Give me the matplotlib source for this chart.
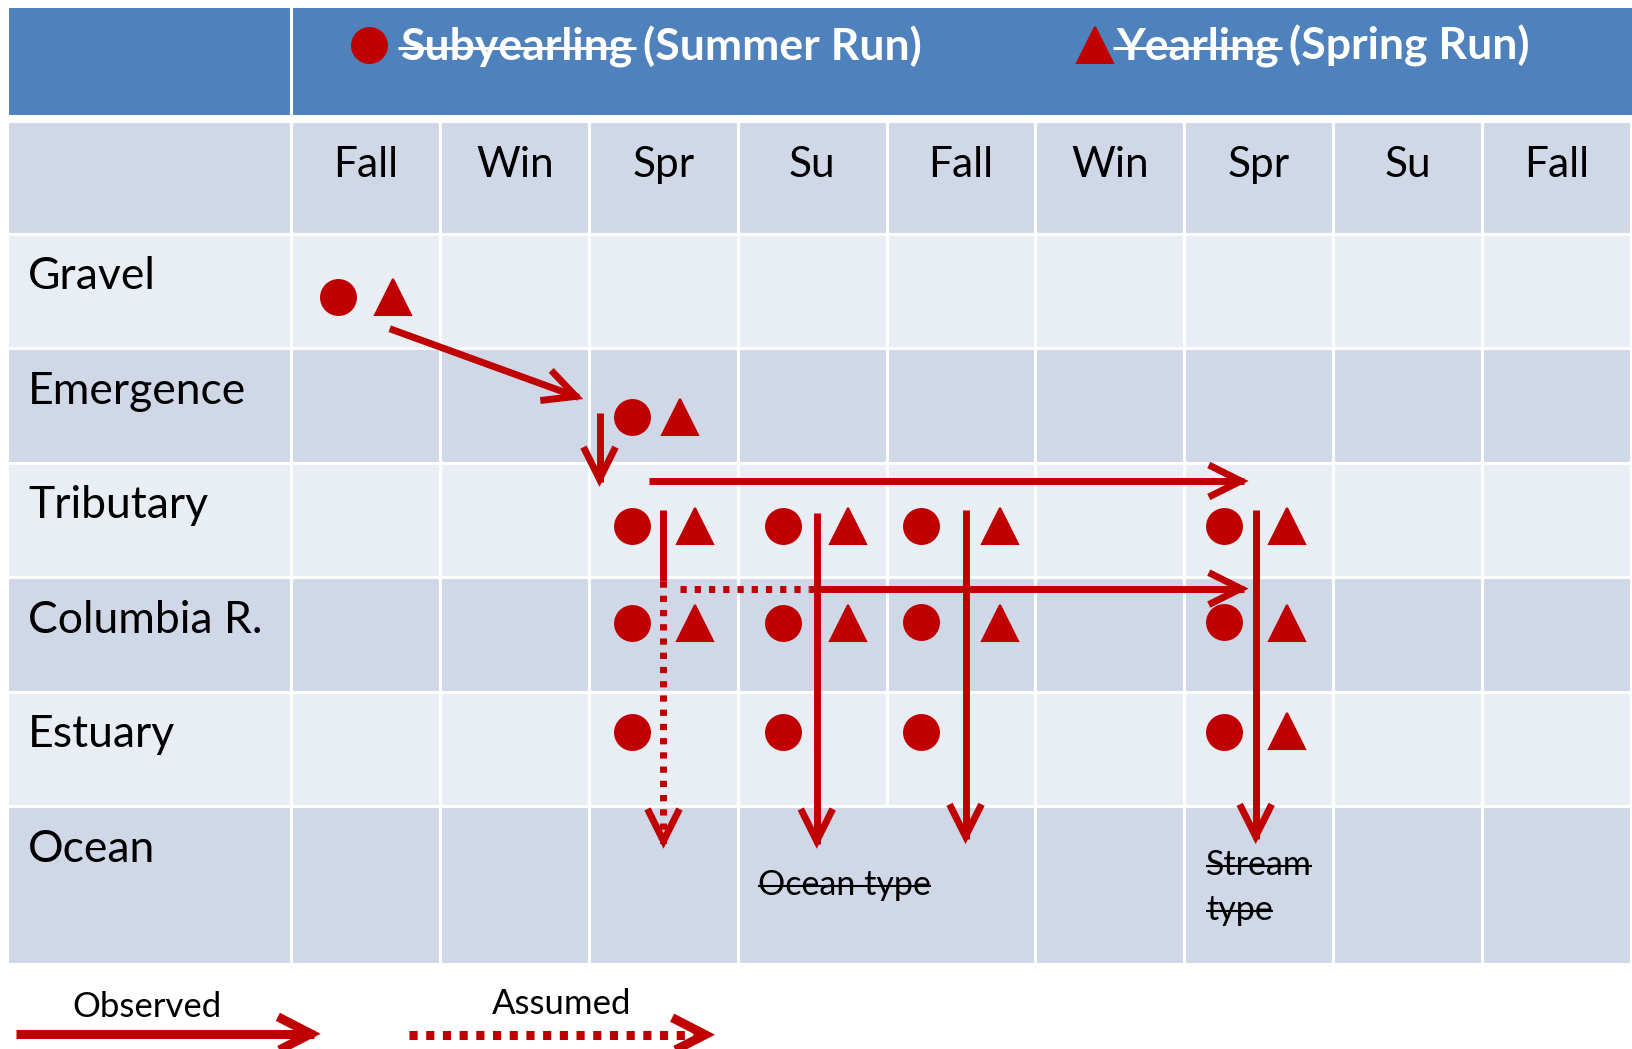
import numpy as np
import matplotlib
matplotlib.use('Agg')
import matplotlib.pyplot as plt
from matplotlib.patches import Rectangle

plt.rcParams['font.family'] = ['Lato', 'DejaVu Sans']

RED = '#C00000'
BLUE = '#4F81BD'
DARK = '#D0D8E8'
LIGHT = '#E9EDF4'

seasons = ['Fall', 'Win', 'Spr', 'Su', 'Fall', 'Win', 'Spr', 'Su', 'Fall']
stages = ['Gravel', 'Emergence', 'Tributary', 'Columbia R.', 'Estuary', 'Ocean']

# circles = subyearling, triangles = yearling (x in season columns, y in stage rows)
sub_x = [0.31, 2.29, 2.29, 3.30, 4.23, 6.27, 2.29, 3.30, 4.23, 6.27, 2.29, 3.30, 4.23, 6.27]
sub_y = [0.55, 1.60, 2.55, 2.55, 2.55, 2.55, 3.40, 3.40, 3.39, 3.39, 4.35, 4.35, 4.35, 4.35]
year_x = [0.68, 2.61, 2.71, 3.74, 4.76, 6.69, 2.71, 3.74, 4.76, 6.69, 6.69]
year_y = [0.55, 1.60, 2.55, 2.55, 2.55, 2.55, 3.40, 3.40, 3.40, 3.40, 4.34]

# movements: x0, y0, x1, y1, arrow head?
observed = [
    (0.66, 0.83, 1.93, 1.43, True),
    (2.07, 1.57, 2.07, 2.17, True),
    (2.40, 2.16, 6.40, 2.16, True),
    (2.50, 2.41, 2.50, 3.03, False),
    (3.48, 3.10, 6.40, 3.10, True),
    (3.53, 2.44, 3.53, 5.33, True),
    (4.53, 2.41, 4.53, 5.29, True),
    (6.48, 2.41, 6.48, 5.29, True),
]
assumed = [
    (2.50, 3.03, 2.50, 5.33, True),
    (2.61, 3.10, 3.48, 3.10, False),
]

fig = plt.figure(figsize=(16.32, 10.49), dpi=100)
ax = fig.add_axes([0, 0, 1, 1])
ax.set_xlim(-1.959, 9.009)
ax.set_ylim(7.121, -2.041)
ax.axis('off')
PX = 100 / 72


def cell(x0, x1, y0, y1, color):
    ax.add_patch(Rectangle((x0, y0), x1 - x0, y1 - y0, facecolor=color,
                           edgecolor='white', lw=2.2, zorder=1))


# table cells
LEFT = -1.913
cell(LEFT, 0, -1.99, -1.028, BLUE)
cell(0, 9.2, -1.99, -1.028, BLUE)
cell(LEFT, 0, -0.982, 0, DARK)
for i in range(len(seasons)):
    cell(i, i + 1, -0.982, 0, DARK)
for r, name in enumerate(stages):
    col = LIGHT if r % 2 == 0 else DARK
    y1 = r + 1 if name != 'Ocean' else 6.38
    cell(LEFT, 0, r, y1, col)
    i = 0
    while i < len(seasons):
        if name == 'Ocean' and i == 3:
            cell(i, i + 2, r, y1, col)
            i += 2
        else:
            cell(i, i + 1, r, y1, col)
            i += 1

for i, s in enumerate(seasons):
    ax.text(i + 0.5, -0.496, s, ha='center', va='baseline', fontsize=30.5, zorder=3)
for r, name in enumerate(stages):
    ax.text(-1.77, r + 0.486, name, ha='left', va='baseline', fontsize=32, zorder=3)

# markers
ax.plot(sub_x, sub_y, 'o', ms=26.6, color=RED, mec='none', zorder=4)
ax.plot(year_x, year_y, '^', ms=25.5, color=RED, mec=RED, mew=1.5, zorder=4)


def chevron(x0, y0, x1, y1, lw, length=32, half=16):
    p0 = ax.transData.transform((x0, y0))
    p1 = ax.transData.transform((x1, y1))
    d = (p1 - p0) / np.linalg.norm(p1 - p0)
    n = np.array([-d[1], d[0]])
    p1 = p1 - d * 3  # miter tip sticks out past the end point
    pts = np.array([p1 - d * length + n * half, p1, p1 - d * length - n * half])
    pts = ax.transData.inverted().transform(pts)
    ax.plot(pts[:, 0], pts[:, 1], color=RED, lw=lw, solid_joinstyle='miter',
            solid_capstyle='butt', zorder=5)


def move(seg, lw, dotted, **kw):
    x0, y0, x1, y1, head = seg
    ls = (0, (0.9, 1.15)) if dotted else '-'
    ax.plot([x0, x1], [y0, y1], color=RED, lw=lw, ls=ls,
            solid_capstyle='butt', dash_capstyle='butt', zorder=5)
    if head:
        chevron(x0, y0, x1, y1, lw, **kw)


for seg in observed:
    move(seg, 5, False)
for seg in assumed:
    move(seg, 5, True)

renderer = fig.canvas.get_renderer()


def strike(t, color, lw=1.6, frac=0.27, pad=0):
    bb = t.get_window_extent(renderer)
    base = ax.transData.transform(t.get_position())[1]
    y = base + frac * t.get_fontsize() * PX
    p = ax.transData.inverted().transform([[bb.x0 - pad, y], [bb.x1 + pad, y]])
    ax.plot(p[:, 0], p[:, 1], color=color, lw=lw, solid_capstyle='butt', zorder=6)
    return bb


def after(bb, gap, y, s, **kw):
    x = ax.transData.inverted().transform((bb.x1 + gap, 0))[0]
    return ax.text(x, y, s, **kw)


# header
hdr = dict(fontsize=32, fontweight='bold', color='white', va='baseline', zorder=3)
ax.plot([0.524], [-1.650], 'o', ms=26.6, color=RED, mec='none', zorder=4)
ax.plot([5.400], [-1.650], '^', ms=25.5, color=RED, mec=RED, mew=1.5, zorder=4)
t = ax.text(0.733, -1.517, 'Subyearling', **hdr)
bb = strike(t, 'white', lw=2.2, pad=3)
after(bb, 10, -1.517, '(Summer Run)', **hdr)
t = ax.text(5.541, -1.517, 'Yearling', **hdr)
bb = strike(t, 'white', lw=2.2, pad=3)
after(bb, 10, -1.517, '(Spring Run)', **hdr)

# ocean labels
t = ax.text(3.138, 5.778, 'Ocean type', fontsize=24.5, va='baseline', zorder=3)
strike(t, 'black', lw=1.5)
t = ax.text(6.146, 5.601, 'Stream', fontsize=24.5, va='baseline', zorder=3)
strike(t, 'black', lw=1.5)
t = ax.text(6.146, 5.995, 'type', fontsize=24.5, va='baseline', zorder=3)
strike(t, 'black', lw=1.5)

# legend
ax.text(-0.972, 6.841, 'Observed', fontsize=25, ha='center', va='baseline')
ax.text(1.818, 6.815, 'Assumed', fontsize=25, ha='center', va='baseline')
ax.plot([-1.852, 0.15], [6.988, 6.988], color=RED, lw=6.5, solid_capstyle='butt')
chevron(-1.852, 6.988, 0.15, 6.988, 6.5, length=33, half=17)
ax.plot([0.787, 2.80], [6.996, 6.996], color=RED, lw=6.5, ls=(0, (0.9, 0.95)),
        dash_capstyle='butt')
chevron(0.787, 6.996, 2.80, 6.996, 6.5, length=33, half=17)

fig.savefig('out.png', dpi=100)
